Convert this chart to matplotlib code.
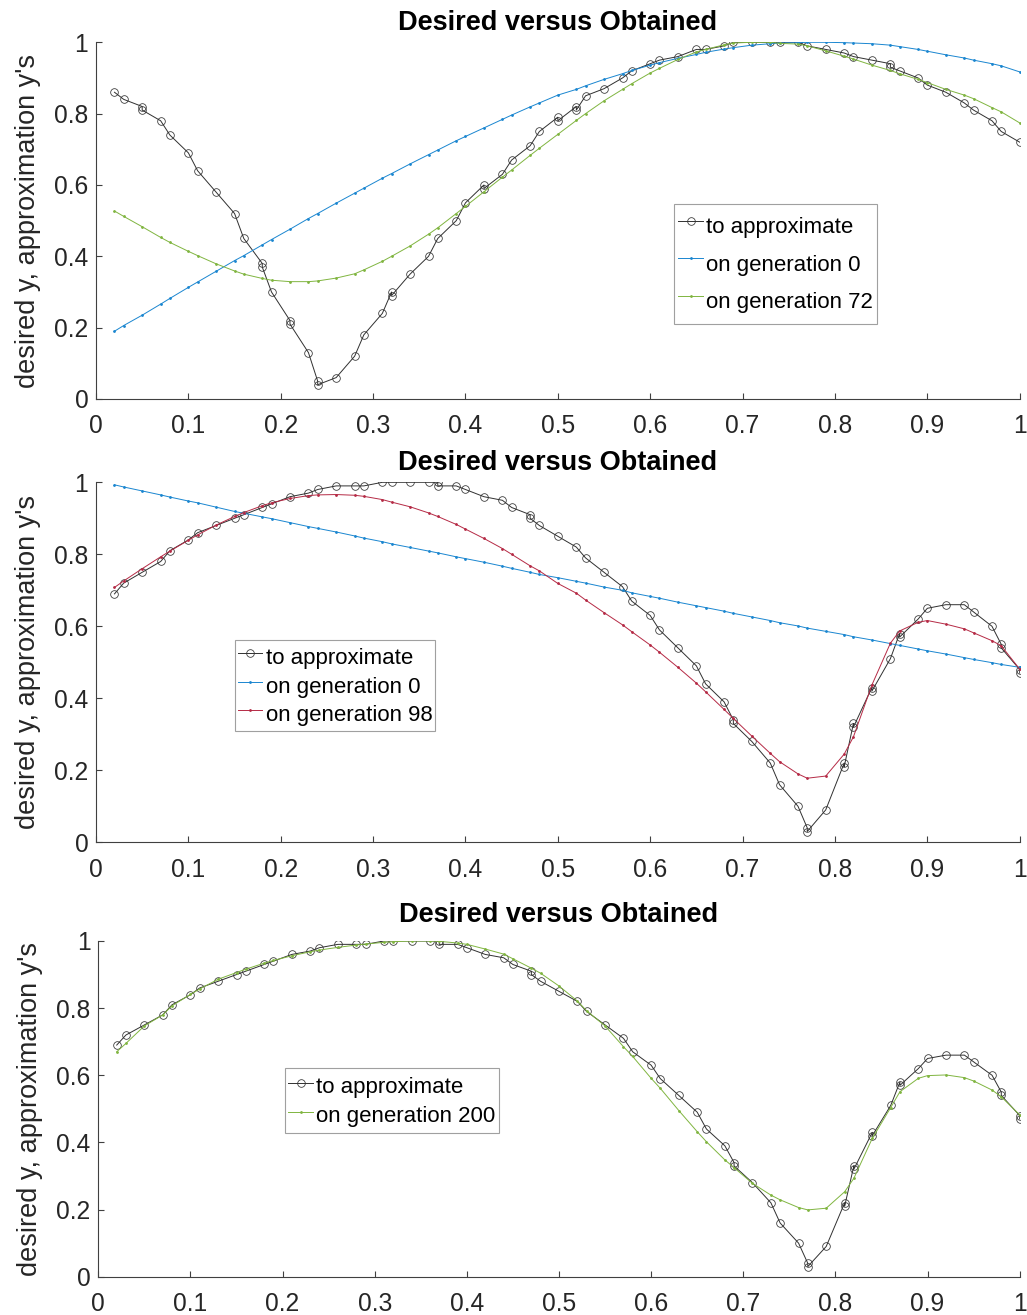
import matplotlib
matplotlib.use("Agg")
import matplotlib.pyplot as plt
from matplotlib.ticker import FixedLocator, FuncFormatter

plt.rcParams['font.family'] = ['Liberation Sans', 'DejaVu Sans']

# ---------------- data ----------------
# sample positions shared by the fitted curves
x_grid = [0.02, 0.03, 0.05, 0.07, 0.08, 0.10, 0.11, 0.13, 0.15, 0.16,
          0.18, 0.19, 0.21, 0.23, 0.24, 0.26, 0.28, 0.29, 0.31, 0.32,
          0.34, 0.36, 0.37, 0.39, 0.40, 0.42, 0.44, 0.45, 0.47, 0.48,
          0.50, 0.52, 0.53, 0.55, 0.57, 0.58, 0.60, 0.61, 0.63, 0.65,
          0.66, 0.68, 0.69, 0.71, 0.73, 0.74, 0.76, 0.77, 0.79, 0.81,
          0.82, 0.84, 0.86, 0.87, 0.89, 0.90, 0.92, 0.94, 0.95, 0.97,
          0.98, 1.00]

# first problem: target samples
target1_x = [0.02, 0.03, 0.05, 0.05, 0.07, 0.08, 0.10, 0.11, 0.13, 0.15,
             0.16, 0.18, 0.18, 0.19, 0.21, 0.21, 0.23, 0.24, 0.24, 0.26,
             0.28, 0.29, 0.31, 0.32, 0.32, 0.34, 0.36, 0.37, 0.39, 0.40,
             0.42, 0.42, 0.44, 0.45, 0.47, 0.48, 0.50, 0.50, 0.52, 0.52,
             0.53, 0.55, 0.57, 0.58, 0.60, 0.61, 0.63, 0.65, 0.66, 0.68,
             0.69, 0.71, 0.73, 0.74, 0.76, 0.77, 0.79, 0.81, 0.82, 0.84,
             0.86, 0.86, 0.87, 0.89, 0.90, 0.92, 0.94, 0.95, 0.97, 0.98,
             1.00]
target1_y = [0.86, 0.84, 0.82, 0.81, 0.78, 0.74, 0.69, 0.64, 0.58, 0.52,
             0.45, 0.38, 0.37, 0.30, 0.22, 0.21, 0.13, 0.05, 0.04, 0.06,
             0.12, 0.18, 0.24, 0.30, 0.29, 0.35, 0.40, 0.45, 0.50, 0.55,
             0.60, 0.59, 0.63, 0.67, 0.71, 0.75, 0.79, 0.78, 0.82, 0.81,
             0.85, 0.87, 0.90, 0.92, 0.94, 0.95, 0.96, 0.98, 0.98, 0.99,
             1.00, 1.00, 1.00, 1.00, 1.00, 0.99, 0.98, 0.97, 0.96, 0.95,
             0.94, 0.93, 0.92, 0.90, 0.88, 0.86, 0.83, 0.81, 0.78, 0.75,
             0.72]
fit1_gen0 = [0.190, 0.206, 0.235, 0.266, 0.282, 0.313, 0.328, 0.358, 0.388, 0.402,
             0.432, 0.447, 0.476, 0.506, 0.520, 0.549, 0.577, 0.591, 0.619, 0.632,
             0.659, 0.685, 0.698, 0.724, 0.736, 0.760, 0.784, 0.796, 0.819, 0.830,
             0.852, 0.868, 0.878, 0.896, 0.912, 0.921, 0.936, 0.943, 0.955, 0.966,
             0.972, 0.981, 0.985, 0.992, 0.996, 0.998, 0.999, 1.000, 1.000, 0.999,
             0.998, 0.996, 0.992, 0.988, 0.980, 0.975, 0.965, 0.956, 0.950, 0.940,
             0.934, 0.917]
fit1_gen72 = [0.527, 0.512, 0.483, 0.453, 0.439, 0.414, 0.402, 0.379, 0.359, 0.350,
              0.338, 0.333, 0.329, 0.329, 0.331, 0.339, 0.351, 0.362, 0.386, 0.400,
              0.429, 0.462, 0.480, 0.520, 0.540, 0.581, 0.622, 0.642, 0.683, 0.703,
              0.742, 0.781, 0.800, 0.836, 0.868, 0.884, 0.914, 0.927, 0.952, 0.973,
              0.980, 0.993, 0.998, 1.000, 1.000, 0.997, 0.995, 0.990, 0.976, 0.961,
              0.953, 0.936, 0.921, 0.912, 0.896, 0.887, 0.868, 0.852, 0.842, 0.817,
              0.805, 0.774]

# second problem: target samples (used by the second and third panels)
target2_x = [0.02, 0.03, 0.05, 0.07, 0.08, 0.10, 0.11, 0.13, 0.15, 0.16,
             0.18, 0.19, 0.21, 0.23, 0.24, 0.26, 0.28, 0.29, 0.31, 0.32,
             0.34, 0.36, 0.37, 0.37, 0.39, 0.40, 0.42, 0.44, 0.45, 0.47,
             0.47, 0.48, 0.50, 0.52, 0.53, 0.55, 0.57, 0.58, 0.60, 0.61,
             0.63, 0.65, 0.66, 0.68, 0.69, 0.69, 0.71, 0.73, 0.74, 0.76,
             0.77, 0.77, 0.79, 0.81, 0.81, 0.82, 0.82, 0.84, 0.84, 0.86,
             0.87, 0.87, 0.89, 0.90, 0.92, 0.94, 0.95, 0.97, 0.98, 0.98,
             1.00, 1.00]
target2_y = [0.69, 0.72, 0.75, 0.78, 0.81, 0.84, 0.86, 0.88, 0.90, 0.91,
             0.93, 0.94, 0.96, 0.97, 0.98, 0.99, 0.99, 0.99, 1.00, 1.00,
             1.00, 1.00, 1.00, 0.99, 0.99, 0.98, 0.96, 0.95, 0.93, 0.91,
             0.90, 0.88, 0.85, 0.82, 0.79, 0.75, 0.71, 0.67, 0.63, 0.59,
             0.54, 0.49, 0.44, 0.39, 0.34, 0.33, 0.28, 0.22, 0.16, 0.10,
             0.04, 0.03, 0.09, 0.22, 0.21, 0.33, 0.32, 0.43, 0.42, 0.51,
             0.58, 0.57, 0.62, 0.65, 0.66, 0.66, 0.64, 0.60, 0.55, 0.54,
             0.48, 0.47]
fit2_gen0 = [0.993, 0.987, 0.976, 0.965, 0.959, 0.948, 0.943, 0.931, 0.919, 0.914,
             0.904, 0.899, 0.888, 0.877, 0.872, 0.862, 0.851, 0.845, 0.835, 0.829,
             0.819, 0.809, 0.804, 0.793, 0.788, 0.778, 0.767, 0.761, 0.750, 0.744,
             0.735, 0.725, 0.720, 0.709, 0.700, 0.693, 0.683, 0.678, 0.667, 0.657,
             0.652, 0.642, 0.636, 0.626, 0.616, 0.610, 0.601, 0.595, 0.586, 0.577,
             0.571, 0.562, 0.552, 0.547, 0.537, 0.532, 0.523, 0.513, 0.508, 0.499,
             0.494, 0.486]
fit2_gen98 = [0.708, 0.726, 0.760, 0.793, 0.809, 0.839, 0.854, 0.881, 0.905, 0.916,
              0.935, 0.943, 0.955, 0.963, 0.965, 0.966, 0.964, 0.961, 0.952, 0.945,
              0.932, 0.915, 0.905, 0.883, 0.870, 0.844, 0.816, 0.800, 0.768, 0.754,
              0.719, 0.692, 0.673, 0.638, 0.604, 0.585, 0.548, 0.528, 0.486, 0.442,
              0.418, 0.369, 0.344, 0.295, 0.247, 0.224, 0.190, 0.178, 0.184, 0.245,
              0.293, 0.437, 0.553, 0.587, 0.611, 0.616, 0.606, 0.593, 0.582, 0.560,
              0.546, 0.481]
fit2_gen200 = [0.670, 0.695, 0.747, 0.780, 0.807, 0.841, 0.857, 0.886, 0.906, 0.916,
               0.934, 0.942, 0.956, 0.968, 0.973, 0.981, 0.988, 0.991, 0.996, 0.998,
               1.000, 1.000, 0.999, 0.994, 0.990, 0.976, 0.961, 0.947, 0.919, 0.904,
               0.866, 0.821, 0.792, 0.747, 0.685, 0.656, 0.591, 0.561, 0.495, 0.432,
               0.402, 0.348, 0.325, 0.278, 0.243, 0.229, 0.206, 0.199, 0.204, 0.253,
               0.293, 0.412, 0.504, 0.551, 0.591, 0.599, 0.601, 0.593, 0.583, 0.556,
               0.536, 0.482]

tick_values = [0.0, 0.1, 0.2, 0.3, 0.4, 0.5, 0.6, 0.7, 0.8, 0.9, 1.0]
ytick_values = [0.0, 0.2, 0.4, 0.6, 0.8, 1.0]

# ---------------- style ----------------
C_TARGET = '#303030'
C_BLUE = '#1A86D0'
C_GREEN = '#80B540'
C_RED = '#B52A45'
AX_COLOR = '#404040'
TXT_COLOR = '#262626'

W, H = 1027, 1315
fig = plt.figure(figsize=(W / 100, H / 100), dpi=100)


def px_axes(left, top, right, bottom):
    return fig.add_axes([left / W, 1 - bottom / H, (right - left) / W, (bottom - top) / H])


fmt = FuncFormatter(lambda v, p: '%g' % v)


def style_axes(ax, title_pad=8.5):
    ax.set_xlim(0, 1)
    ax.set_ylim(0, 1)
    for s in ('top', 'right'):
        ax.spines[s].set_visible(False)
    for s in ('left', 'bottom'):
        ax.spines[s].set_color(AX_COLOR)
        ax.spines[s].set_linewidth(0.8)
    ax.xaxis.set_major_locator(FixedLocator(tick_values))
    ax.yaxis.set_major_locator(FixedLocator(ytick_values))
    ax.xaxis.set_major_formatter(fmt)
    ax.yaxis.set_major_formatter(fmt)
    ax.tick_params(direction='in', length=4.3, width=0.8, color=AX_COLOR,
                   labelsize=17.7, labelcolor=TXT_COLOR)
    ax.tick_params(axis='x', pad=11)
    ax.tick_params(axis='y', pad=5.5)
    ax.set_title('Desired versus Obtained', fontsize=19.5, fontweight='bold',
                 color='black', pad=title_pad)
    ax.set_ylabel("desired y, approximation y's", fontsize=19.5, color=TXT_COLOR)
    ax.yaxis.set_label_coords(-0.060, 0.5)


def draw_target(ax, xs, ys):
    ax.plot(xs, ys, '-o', color=C_TARGET, lw=0.7, ms=5.5, mfc='none', mew=0.55,
            label='to approximate')


def draw_fit(ax, ys, color, label):
    ax.plot(x_grid, ys, '.-', color=color, lw=0.7, ms=2.0, label=label)


def add_legend(ax, left, top, row_px, bpad):
    fs = 16
    # legend row height (points) = fs * (0.65 * handleheight + 0.245)
    row_pt = row_px * 72 / 100
    hh = (row_pt / fs - 0.245) / 0.65
    leg = ax.legend(loc='upper left', bbox_to_anchor=(left / W, 1 - top / H),
                    bbox_transform=fig.transFigure, fontsize=fs,
                    handlelength=1.1, handletextpad=0.15, borderpad=bpad,
                    borderaxespad=0, labelspacing=0.0, handleheight=hh,
                    fancybox=False, framealpha=1, edgecolor='#A0A0A0')
    leg.get_frame().set_linewidth(0.8)
    for t in leg.get_texts():
        t.set_color('black')


# panel 1
ax1 = px_axes(96, 42.3, 1019.7, 399)
draw_target(ax1, target1_x, target1_y)
draw_fit(ax1, fit1_gen0, C_BLUE, 'on generation 0')
draw_fit(ax1, fit1_gen72, C_GREEN, 'on generation 72')
style_axes(ax1)
add_legend(ax1, 674.3, 203.7, 37.5, 0.18)

# panel 2
ax2 = px_axes(96, 482.3, 1019.7, 842.3)
draw_target(ax2, target2_x, target2_y)
draw_fit(ax2, fit2_gen0, C_BLUE, 'on generation 0')
draw_fit(ax2, fit2_gen98, C_RED, 'on generation 98')
style_axes(ax2)
add_legend(ax2, 235.3, 640, 28.5, 0.12)

# panel 3
ax3 = px_axes(98.3, 941, 1019.7, 1276.7)
draw_target(ax3, target2_x, target2_y)
draw_fit(ax3, fit2_gen200, C_GREEN, 'on generation 200')
style_axes(ax3, title_pad=14)
add_legend(ax3, 285, 1068.3, 29, 0.15)

fig.savefig('out.png', dpi=100)
